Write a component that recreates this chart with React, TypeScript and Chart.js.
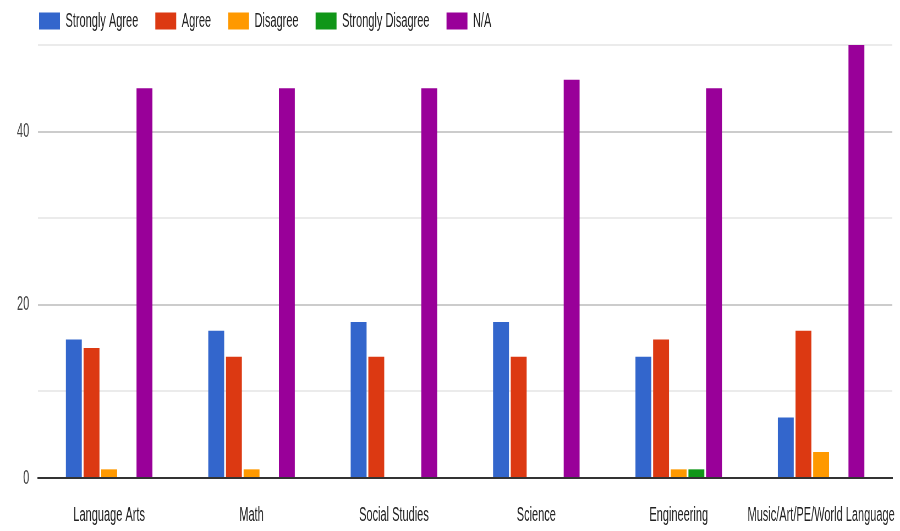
import React, { useEffect, useRef } from 'react';
import { Chart, registerables } from 'chart.js';

Chart.register(...registerables);

const categories = [
  'Language Arts',
  'Math',
  'Social Studies',
  'Science',
  'Engineering',
  'Music/Art/PE/World Language',
];
const stronglyAgree = [16, 17, 18, 18, 14, 7];
const agree = [15, 14, 14, 14, 16, 17];
const disagree = [1, 1, 0, 0, 1, 3];
const stronglyDisagree = [0, 0, 0, 0, 1, 0];
const notApplicable = [45, 45, 45, 46, 45, 50];
const yTickLabels = [0, 20, 40];

const W = 1636;
const H = 531;
const SX = 900 / W;
const FONT = "'Liberation Sans', Arial, sans-serif";

const legendTweak = {
  id: 'legendTweak',
  beforeInit(chart: any) {
    const lg = chart.legend;
    if (lg) {
      const orig = lg.fit;
      lg.fit = function () {
        orig.call(this);
        this.height = 45;
      };
    }
  },
  afterLayout(chart: any) {
    const lg = chart.legend;
    if (lg) {
      lg.top -= 20;
      lg.left += 20;
      lg.right = chart.width;
    }
  },
};

export default function App() {
  const ref = useRef<HTMLCanvasElement>(null);

  useEffect(() => {
    document.body.style.margin = '0';
    const chart = new Chart(ref.current as HTMLCanvasElement, {
      type: 'bar',
      data: {
        labels: categories,
        datasets: [
          { label: 'Strongly Agree', data: stronglyAgree, backgroundColor: '#3366cc' },
          { label: 'Agree', data: agree, backgroundColor: '#dc3912' },
          { label: 'Disagree', data: disagree, backgroundColor: '#ff9900' },
          { label: 'Strongly Disagree', data: stronglyDisagree, backgroundColor: '#109618' },
          { label: 'N/A', data: notApplicable, backgroundColor: '#990099' },
        ],
      },
      options: {
        responsive: false,
        animation: false,
        devicePixelRatio: 1,
        layout: { padding: { left: 20, right: 14, top: 0, bottom: 4 } },
        datasets: {
          bar: { categoryPercentage: 0.62, barPercentage: 0.9, borderWidth: 0 },
        },
        plugins: {
          tooltip: { enabled: false },
          legend: {
            position: 'top',
            align: 'start',
            labels: {
              boxWidth: 38,
              boxHeight: 17,
              padding: 31,
              color: '#222',
              font: { family: FONT, size: 20 },
            },
          },
        },
        scales: {
          x: {
            grid: { display: false, drawTicks: false },
            border: { display: true, color: '#333', width: 2 },
            ticks: {
              padding: 25,
              color: '#222',
              maxRotation: 0,
              minRotation: 0,
              autoSkip: false,
              font: { family: FONT, size: 20 },
            },
            afterFit: (s: any) => {
              s.height = 49;
              s.paddingLeft = 0;
              s.paddingRight = 0;
            },
          },
          y: {
            min: 0,
            max: 50,
            border: { display: false },
            grid: {
              drawTicks: false,
              lineWidth: 2,
              color: (ctx: any) => {
                const v = ctx.tick ? ctx.tick.value : 1;
                if (v === 0) return '#333';
                return v % 20 === 0 ? '#cccccc' : '#ebebeb';
              },
            },
            ticks: {
              stepSize: 10,
              padding: 16,
              color: '#444',
              font: { family: FONT, size: 20 },
              callback: (v: any) => (yTickLabels.includes(Number(v)) ? String(v) : ''),
            },
            afterFit: (s: any) => {
              s.width = 49;
              s.paddingTop = 0;
              s.paddingBottom = 0;
            },
          },
        },
      },
      plugins: [legendTweak],
    } as any);
    return () => chart.destroy();
  }, []);

  return (
    <div style={{ width: 900, height: 531, overflow: 'hidden', position: 'relative', background: '#fff' }}>
      <div style={{ width: W, height: H, transform: `scaleX(${SX})`, transformOrigin: '0 0' }}>
        <canvas ref={ref} width={W} height={H} />
      </div>
    </div>
  );
}
